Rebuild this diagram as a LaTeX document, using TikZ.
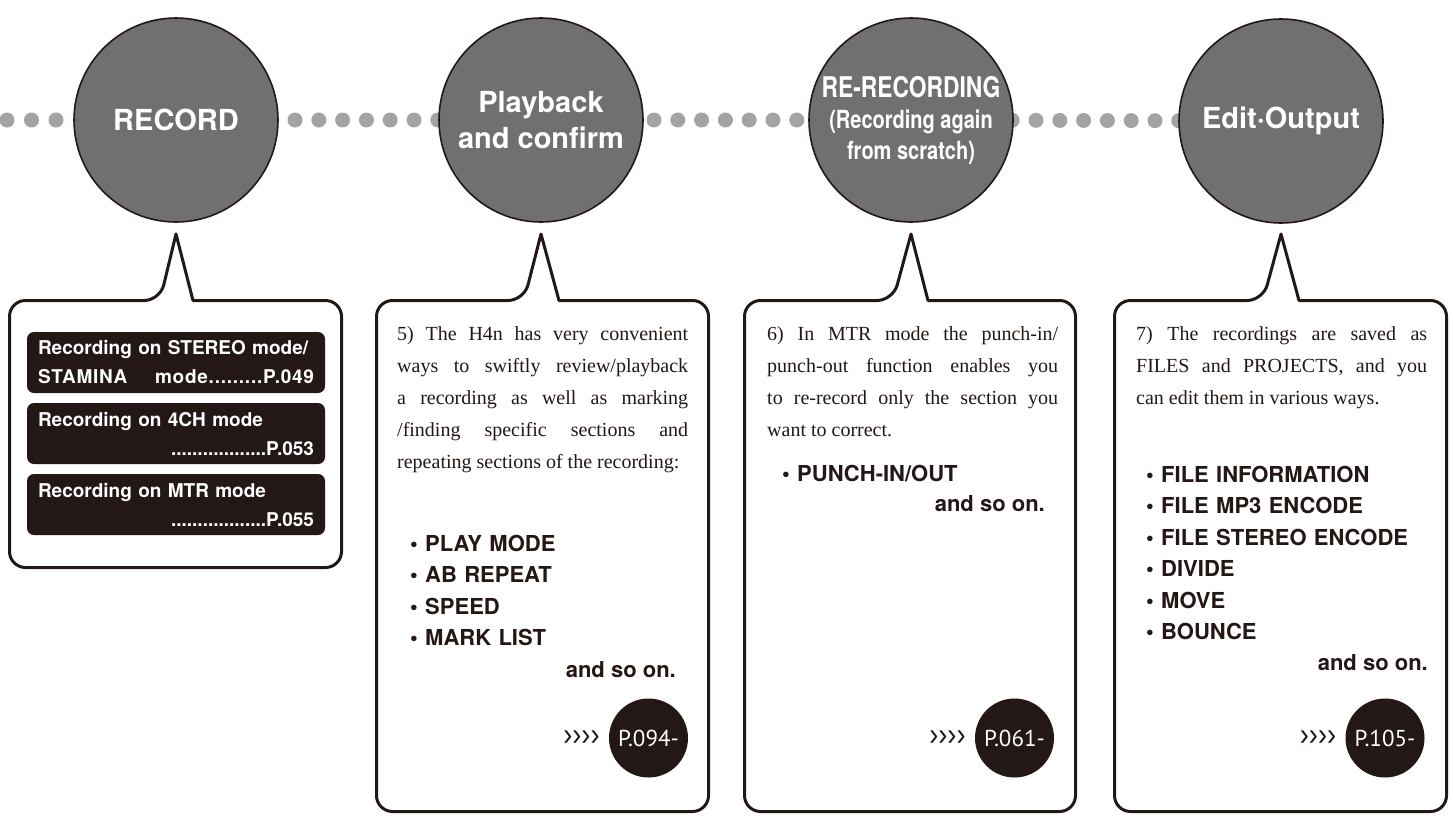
\documentclass[tikz,border=0pt]{standalone}
\usepackage{fontspec}
\setmainfont{Liberation Serif}
\setsansfont{TeX Gyre Heros}
\newfontfamily\narrowfont[FakeStretch=0.8]{TeX Gyre Heros}
\newfontfamily\pagefont{PT Sans}
\newfontfamily\chevfont[FakeStretch=0.85]{Liberation Sans}
\usepackage{tikz}
\usetikzlibrary{positioning, backgrounds}
\definecolor{myink}{RGB}{35,24,21}
\definecolor{mystage}{RGB}{112,112,112}
\definecolor{mydot}{RGB}{163,163,163}
\tolerance=10000
\hbadness=10000
\hyphenpenalty=10000
\newcommand\pushright{\hspace*{0pt plus 1fill}}
\tikzset{
  stage/.style={circle, draw=myink, line width=1.6pt, fill=mystage, minimum size=204pt, inner sep=0pt, text=white, align=center, font=\sffamily\bfseries\fontsize{29}{36}\selectfont},
  dotline/.style={draw=mydot, line width=15pt, line cap=round, dash pattern=on 0pt off 23.8pt},
  bubble/.style={draw=myink, line width=3pt, line join=round, fill=white},
  refbox/.style={rectangle, rounded corners=7pt, fill=myink, inner xsep=11pt, inner ysep=0pt, minimum height=61pt, text width=276pt, align=left, text=white, font=\sffamily\bfseries\fontsize{19}{29}\selectfont}
}

\begin{document}
\begin{tikzpicture}[x=1pt, y=-1pt,
  para/.style={anchor=base west, inner sep=0pt, text width=291pt, align=justify, text=myink, font=\fontsize{20}{32}\selectfont},
  items/.style={anchor=base west, inner sep=0pt, text width=280pt, align=left, text=myink, font=\sffamily\bfseries\fontsize{22}{31.5}\selectfont},
  andso/.style={anchor=base east, inner sep=0pt, text=myink, font=\sffamily\bfseries\fontsize{22}{26}\selectfont},
  pagecirc/.style={circle, fill=myink, minimum size=79pt, inner sep=0pt, text=white, font=\pagefont\fontsize{23}{23}\selectfont},
  chev/.style={inner sep=0pt, text=myink, font=\chevfont\fontsize{32}{32}\selectfont}]
  \useasboundingbox (0,0) rectangle (1453,817);

  % stages
  \node [stage] (rec) at (176,120) {RECORD};
  \node [stage] (play) at (541,120) {Playback\\and confirm};
  \node [stage, font=\narrowfont\bfseries\fontsize{25}{31}\selectfont] (rerec) at (911,120) {{\fontsize{28.5}{31}\selectfont RE-RECORDING}\\(Recording again\\from scratch)};
  \node [stage] (edit) at (1281,121) {Edit·Output};
  \coordinate (lineL) at (7,120);

  \begin{scope}[on background layer]
    \draw [dotline, dash pattern=on 0pt off 24.5pt] (lineL) -- (rec.center);
    \draw [dotline] (rec.center) -- (play.center);
    \draw [dotline, dash phase=6pt] (play.center) -- (rerec.center);
    \draw [dotline, dash phase=17.8pt] (rerec.center) -- (edit.center);
  \end{scope}

  % speech bubbles
  \draw [bubble] (193,300.5) [rounded corners=16pt] -- (341.5,300.5) -- (341.5,567.5) -- (9.5,567.5) -- (9.5,300.5) -- (160,300.5) [sharp corners] -- (176,234) -- cycle;
  \draw [bubble] (559,300.5) [rounded corners=16pt] -- (708.5,300.5) -- (708.5,811.5) -- (376.5,811.5) -- (376.5,300.5) -- (524,300.5) [sharp corners] -- (541,234) -- cycle;
  \draw [bubble] (928,300.5) [rounded corners=16pt] -- (1075.5,300.5) -- (1075.5,811.5) -- (744.5,811.5) -- (744.5,300.5) -- (893,300.5) [sharp corners] -- (911,234) -- cycle;
  \draw [bubble] (1299,300.5) [rounded corners=16pt] -- (1446.5,300.5) -- (1446.5,811.5) -- (1114.5,811.5) -- (1114.5,300.5) -- (1263,300.5) [sharp corners] -- (1281,234) -- cycle;

  % record modes
  \node [refbox] (stereo) at (176,362.5) {Recording on STEREO mode/\\{\addfontfeatures{LetterSpace=4}STAMINA\pushright{} mode.........P.049}};
  \node [refbox] (fourch) at (176,433.5) {Recording on 4CH mode\\\pushright ..................P.053};
  \node [refbox] (mtr) at (176,504.5) {Recording on MTR mode\\\pushright ..................P.055};

  % playback
  \node [para] (txtplay) at (397,340) {5) The H4n has very convenient\linebreak ways to swiftly review/playback\linebreak a recording as well as marking\linebreak /finding specific sections and\linebreak repeating sections of the recording:};
  \node [items] (lstplay) at (410,551) {• PLAY MODE\\• AB REPEAT\\• SPEED\\• MARK LIST};
  \node [andso] (etcplay) at (676,677) {and so on.};
  \node [pagecirc] (pgplay) at (648.5,738) {P.094-};
  \node [chev, left=9pt of pgplay] (chplay) {››››};

  % re-recording
  \node [para] (txtrerec) at (767,340) {6) In MTR mode the punch-in/\linebreak punch-out function enables you\linebreak to re-record only the section you\linebreak want to correct.};
  \node [items] (lstrerec) at (782,481) {• PUNCH-IN/OUT};
  \node [andso] (etcrerec) at (1045,511) {and so on.};
  \node [pagecirc] (pgrerec) at (1014.5,738) {P.061-};
  \node [chev, left=9pt of pgrerec] (chrerec) {››››};

  % edit / output
  \node [para] (txtedit) at (1136,340) {7) The recordings are saved as\linebreak FILES and PROJECTS, and you\linebreak can edit them in various ways.};
  \node [items] (lstedit) at (1146,482) {• FILE INFORMATION\\• FILE MP3 ENCODE\\• FILE STEREO ENCODE\\• DIVIDE\\• MOVE\\• BOUNCE};
  \node [andso] (etcedit) at (1428,670) {and so on.};
  \node [pagecirc] (pgedit) at (1385,738) {P.105-};
  \node [chev, left=9pt of pgedit] (chedit) {››››};
\end{tikzpicture}
\end{document}
